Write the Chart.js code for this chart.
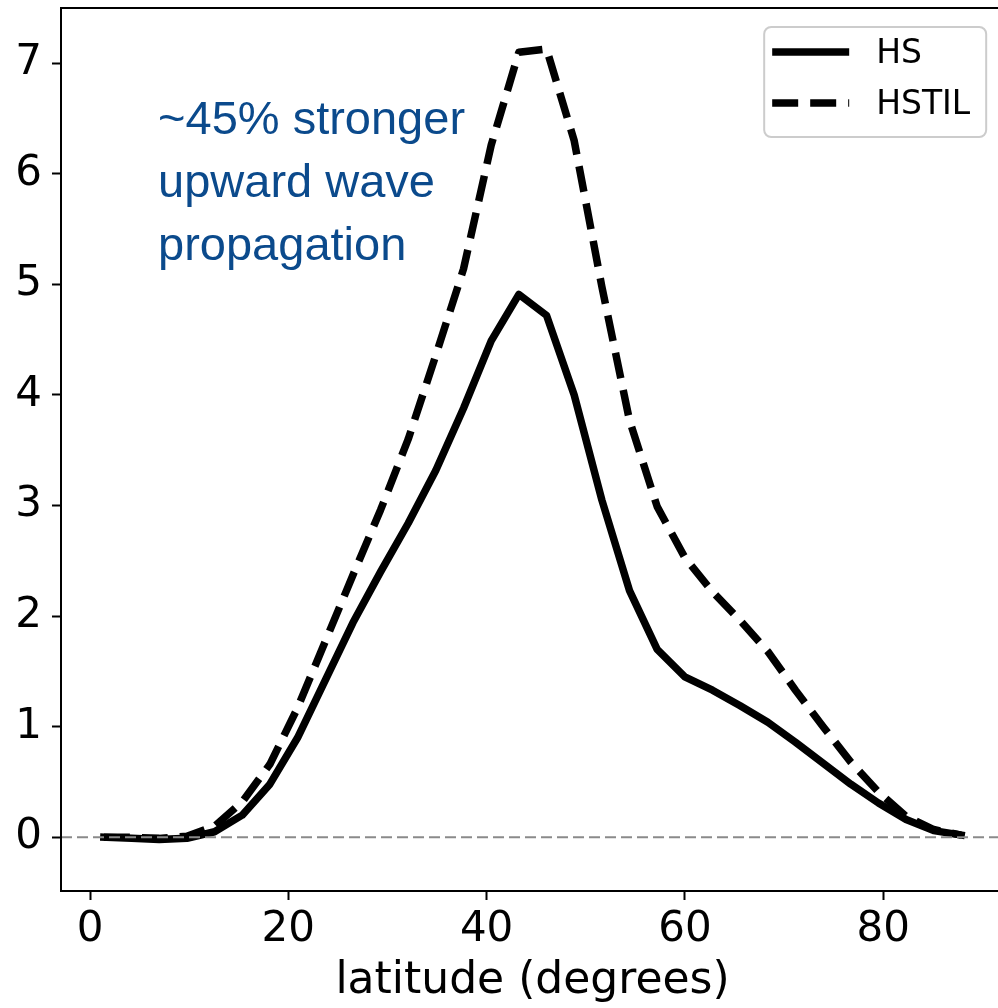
<!DOCTYPE html>
<html>
<head>
<meta charset="utf-8">
<script src="https://cdn.jsdelivr.net/npm/chart.js@4.4.1/dist/chart.umd.min.js"></script>
<style>
  html, body { margin: 0; padding: 0; background: #fff; overflow: hidden; }
  #wrap { width: 1030px; height: 1008px; }
  #c { display: block; width: 1030px; height: 1008px; }
</style>
</head>
<body>
<div id="wrap"><canvas id="c" width="1030" height="1008"></canvas></div>
<script>
// Gaussian-grid latitudes (degrees)
const latitudes = [1.395, 4.186, 6.977, 9.767, 12.558, 15.349, 18.139, 20.930, 23.720, 26.511,
  29.302, 32.092, 34.883, 37.673, 40.464, 43.254, 46.045, 48.835, 51.626, 54.416,
  57.207, 59.997, 62.787, 65.578, 68.368, 71.158, 73.948, 76.737, 79.526, 82.314,
  85.097, 87.864];

// Upward wave flux, HS run
const hsValues = [0.00, -0.01, -0.02, -0.01, 0.05, 0.20, 0.48, 0.90, 1.42, 1.94,
  2.40, 2.84, 3.32, 3.88, 4.49, 4.91, 4.72, 4.00, 3.05, 2.23,
  1.70, 1.45, 1.33, 1.19, 1.04, 0.86, 0.67, 0.48, 0.31, 0.16,
  0.06, 0.02];

// Upward wave flux, HSTIL run
const hstilValues = [0.00, 0.00, -0.01, 0.01, 0.10, 0.32, 0.66, 1.17, 1.77, 2.37,
  2.96, 3.60, 4.36, 5.14, 6.26, 7.10, 7.13, 6.30, 4.98, 3.77,
  2.99, 2.53, 2.22, 1.96, 1.68, 1.33, 1.00, 0.68, 0.41, 0.19,
  0.07, 0.02];

const seriesLabels = ['HS', 'HSTIL'];
const xTicks = [0, 20, 40, 60, 80];
const yTicks = [0, 1, 2, 3, 4, 5, 6, 7];
const annotationLines = ['~45% stronger', 'upward wave', 'propagation'];
const xTitle = 'latitude (degrees)';

const toPoints = vals => latitudes.map((lat, i) => ({ x: lat, y: vals[i] }));

// Dashed zero reference, frame, annotation and boxed legend
const decorations = {
  id: 'decorations',
  afterDatasetsDraw(chart) {
    const { ctx, chartArea: a, scales } = chart;
    const y0 = scales.y.getPixelForValue(0);
    ctx.save();
    ctx.beginPath();
    ctx.rect(a.left, a.top, a.right - a.left, a.bottom - a.top);
    ctx.clip();
    ctx.strokeStyle = '#8a8a8a';
    ctx.lineWidth = 2.2;
    ctx.setLineDash([11, 5]);
    ctx.beginPath();
    ctx.moveTo(a.left, y0);
    ctx.lineTo(a.right, y0);
    ctx.stroke();
    ctx.restore();
  },
  afterDraw(chart) {
    const { ctx, chartArea: a, scales } = chart;
    ctx.save();
    // frame
    ctx.strokeStyle = '#000';
    ctx.lineWidth = 2;
    ctx.strokeRect(a.left, a.top, a.right - a.left, a.bottom - a.top);

    // annotation text
    ctx.fillStyle = '#0b4a8c';
    ctx.font = '47px "Liberation Sans", Arial, sans-serif';
    ctx.textAlign = 'left';
    ctx.textBaseline = 'alphabetic';
    const tx = scales.x.getPixelForValue(6.86);
    const base = scales.y.getPixelForValue(6.36);
    annotationLines.forEach((t, i) => ctx.fillText(t, tx, base + i * 63));

    // legend box
    const bx = scales.x.getPixelForValue(68.0), by = a.top + 19, bw = 222, bh = 110;
    ctx.beginPath();
    ctx.roundRect(bx, by, bw, bh, 7);
    ctx.fillStyle = 'rgba(255,255,255,0.85)';
    ctx.fill();
    ctx.strokeStyle = '#cccccc';
    ctx.lineWidth = 2;
    ctx.stroke();
    chart.data.datasets.forEach((ds, i) => {
      const ly = by + 25 + i * 51;
      ctx.strokeStyle = ds.borderColor;
      ctx.lineWidth = ds.borderWidth;
      ctx.lineCap = 'butt';
      ctx.setLineDash(ds.borderDash || []);
      ctx.beginPath();
      ctx.moveTo(bx + 8, ly);
      ctx.lineTo(bx + 85, ly);
      ctx.stroke();
      ctx.setLineDash([]);
      ctx.fillStyle = '#000';
      ctx.font = '33px "DejaVu Sans", sans-serif';
      ctx.textBaseline = 'middle';
      ctx.fillText(ds.label, bx + 112, ly + 2);
    });
    ctx.restore();
  }
};

new Chart(document.getElementById('c'), {
  type: 'line',
  data: {
    datasets: [
      {
        label: seriesLabels[0],
        data: toPoints(hsValues),
        borderColor: '#000',
        borderWidth: 7.5,
        borderJoinStyle: 'round',
        borderCapStyle: 'square',
        pointRadius: 0,
        tension: 0,
        fill: false
      },
      {
        label: seriesLabels[1],
        data: toPoints(hstilValues),
        borderColor: '#000',
        borderWidth: 7.5,
        borderDash: [26, 12],
        borderJoinStyle: 'round',
        borderCapStyle: 'butt',
        pointRadius: 0,
        tension: 0,
        fill: false
      }
    ]
  },
  options: {
    responsive: false,
    devicePixelRatio: 1,
    animation: false,
    layout: { padding: { top: 8, right: 26, left: 0, bottom: 0 } },
    plugins: { legend: { display: false }, tooltip: { enabled: false } },
    scales: {
      x: {
        type: 'linear',
        min: -2.93,
        max: 92.19,
        afterBuildTicks: s => { s.ticks = xTicks.map(v => ({ value: v })); },
        afterFit: s => { s.height = 117; s.paddingLeft = 0; s.paddingRight = 0; },
        grid: { display: true, drawOnChartArea: false, drawTicks: true, tickLength: 9, tickWidth: 2, tickColor: '#000' },
        border: { display: true, color: '#000', width: 2 },
        ticks: {
          color: '#000',
          font: { family: '"DejaVu Sans", sans-serif', size: 42 },
          padding: 5,
          maxRotation: 0,
          callback: v => String(v)
        },
        title: {
          display: true,
          text: xTitle,
          color: '#000',
          font: { family: '"DejaVu Sans", sans-serif', size: 44 },
          padding: { top: 6, bottom: 0 }
        }
      },
      y: {
        type: 'linear',
        min: -0.486,
        max: 7.50,
        afterBuildTicks: s => { s.ticks = yTicks.map(v => ({ value: v })); },
        afterFit: s => { s.width = 61; s.paddingTop = 0; s.paddingBottom = 0; },
        grid: { display: true, drawOnChartArea: false, drawTicks: true, tickLength: 9, tickWidth: 2, tickColor: '#000' },
        border: { display: true, color: '#000', width: 2 },
        ticks: {
          color: '#000',
          font: { family: '"DejaVu Sans", sans-serif', size: 42 },
          padding: 10,
          callback: v => String(v)
        }
      }
    }
  },
  plugins: [decorations]
});
</script>
</body>
</html>
